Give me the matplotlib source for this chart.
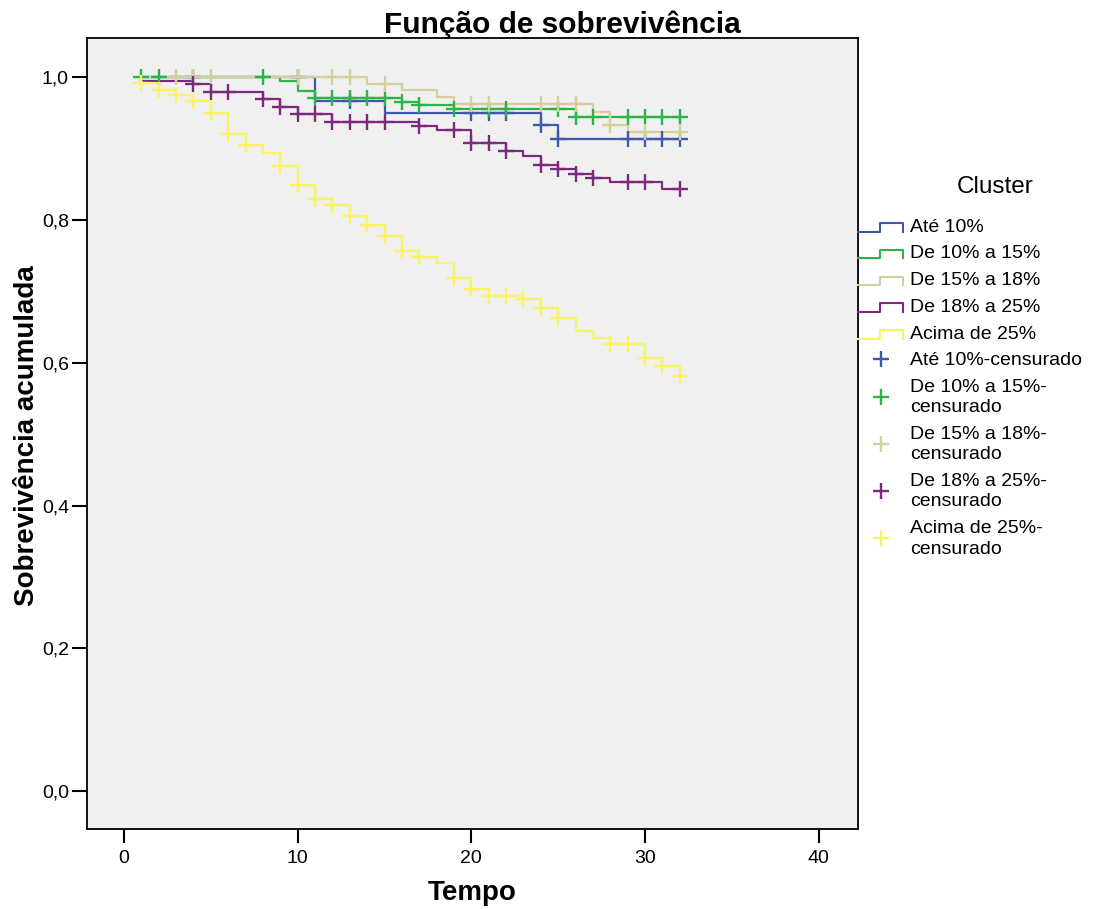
import numpy as np
import matplotlib
matplotlib.use("Agg")
import matplotlib.pyplot as plt
from matplotlib.lines import Line2D
from matplotlib.legend_handler import HandlerBase
from matplotlib.ticker import FuncFormatter

plt.rcParams['font.family'] = ['Liberation Sans', 'DejaVu Sans']

# Kaplan-Meier step curves: event times and survival after each step
labels = ["Até 10%", "De 10% a 15%", "De 15% a 18%", "De 18% a 25%", "Acima de 25%"]
colors = ["#3e58ac", "#2db34a", "#d4cf9c", "#7b2a7e", "#f8f464"]

t_ate10 = [1, 11, 15, 24, 25, 32]
s_ate10 = [1.0, 0.967, 0.950, 0.9335, 0.914, 0.914]
c_ate10 = [4, 10, 13, 20, 21, 22, 24, 25, 29, 30, 31, 32]

t_10a15 = [1, 9, 10, 11, 16, 17, 19, 26, 32]
s_10a15 = [1.0, 0.9946, 0.980, 0.971, 0.9656, 0.9615, 0.955, 0.944, 0.944]
c_10a15 = [1, 2, 8, 11, 12, 13, 14, 15, 16, 17, 19, 21, 22, 25, 26, 27, 29, 30, 31, 32]

t_15a18 = [1, 14, 16, 18, 19, 27, 28, 29, 32]
s_15a18 = [1.0, 0.9906, 0.982, 0.9724, 0.963, 0.951, 0.9335, 0.923, 0.923]
c_15a18 = [3, 4, 5, 10, 12, 13, 15, 20, 21, 24, 25, 26, 28, 30, 32]

t_18a25 = [1, 4, 5, 8, 9, 10, 12, 17, 18, 20, 22, 23, 24, 25, 26, 27, 28, 31, 32]
s_18a25 = [0.9946, 0.990, 0.979, 0.969, 0.9586, 0.948, 0.937, 0.931, 0.926, 0.908,
           0.896, 0.889, 0.8775, 0.871, 0.865, 0.859, 0.8525, 0.844, 0.844]
c_18a25 = [4, 5, 6, 8, 9, 10, 11, 12, 13, 14, 15, 17, 19, 20, 21, 22, 24, 25, 26, 27, 29, 30, 32]

t_acima25 = [1, 2, 3, 4, 5, 6, 7, 8, 9, 10, 11, 12, 13, 14, 15, 16, 17, 18, 19, 20,
             21, 23, 24, 25, 26, 27, 28, 30, 31, 32]
s_acima25 = [0.9925, 0.982, 0.975, 0.967, 0.950, 0.920, 0.905, 0.894, 0.875, 0.849,
             0.829, 0.821, 0.806, 0.793, 0.777, 0.7565, 0.748, 0.740, 0.719, 0.703,
             0.694, 0.690, 0.677, 0.663, 0.644, 0.635, 0.626, 0.606, 0.595, 0.582]
c_acima25 = [1, 2, 3, 4, 5, 6, 7, 9, 10, 11, 12, 13, 14, 15, 16, 17, 19, 20, 21, 22,
             23, 24, 25, 28, 29, 30, 31, 32]

times = [t_ate10, t_10a15, t_15a18, t_18a25, t_acima25]
survs = [s_ate10, s_10a15, s_15a18, s_18a25, s_acima25]
censors = [c_ate10, c_10a15, c_15a18, c_18a25, c_acima25]


class StepHandler(HandlerBase):
    # legend icon shaped like a small step
    def create_artists(self, legend, orig_handle, xdescent, ydescent,
                       width, height, fontsize, trans):
        x0, y0 = -xdescent, -ydescent
        h = height * 0.62
        xs = [x0, x0 + width * 0.49, x0 + width * 0.49, x0 + width, x0 + width]
        ys = [y0, y0, y0 + h, y0 + h, y0]
        line = Line2D(xs, ys, color=orig_handle.get_color(), lw=1.5)
        line.set_transform(trans)
        return [line]


fig = plt.figure(figsize=(10.93, 9.09), dpi=100)
ax = fig.add_axes([0.0796, 0.088, 0.7054, 0.870])
ax.set_facecolor("#f0f0f0")

step_handles = []
for t, s, col, lab in zip(times, survs, colors, labels):
    ln, = ax.step(t, s, where="post", color=col, lw=1.6)
    step_handles.append(ln)

mark_handles = []
for t, s, c, col in zip(times, survs, censors, colors):
    t = np.array(t)
    s = np.array(s)
    idx = np.searchsorted(t, c, side="right") - 1
    mk, = ax.plot(c, s[idx], ls="none", marker="+", ms=12, mew=1.7, color=col)
    mark_handles.append(mk)

ax.set_xlim(-2.13, 42.26)
ax.set_ylim(-0.053, 1.0546)
ax.set_xticks([0, 10, 20, 30, 40])
ax.set_yticks([0.0, 0.2, 0.4, 0.6, 0.8, 1.0])
ax.yaxis.set_major_formatter(FuncFormatter(lambda v, p: f"{v:.1f}".replace(".", ",")))
ax.tick_params(axis="x", length=10, width=1.5, labelsize=14, pad=5)
ax.tick_params(axis="y", length=11, width=1.5, labelsize=14, pad=2)
for sp in ax.spines.values():
    sp.set_linewidth(1.3)

ax.set_xlabel("Tempo", fontsize=20, fontweight="bold", va="center")
ax.set_ylabel("Sobrevivência acumulada", fontsize=20, fontweight="bold", va="center")
ax.xaxis.set_label_coords(0.5, -0.081)
ax.yaxis.set_label_coords(-0.078, 0.498)
fig.text(0.5146, 1 - 33 / 909, "Função de sobrevivência", ha="center", va="baseline",
         fontsize=21.5, fontweight="bold")

fig.text(995 / 1093, 1 - 187 / 909, "Cluster", ha="center", va="center", fontsize=17.5)
leg_labels = labels + [
    "Até 10%-censurado",
    "De 10% a 15%-\ncensurado",
    "De 15% a 18%-\ncensurado",
    "De 18% a 25%-\ncensurado",
    "Acima de 25%-\ncensurado",
]
handler_map = {h: StepHandler() for h in step_handles}
leg = fig.legend(step_handles + mark_handles, leg_labels, handler_map=handler_map,
                 loc="upper left", bbox_to_anchor=(858 / 1093, 1 - 218 / 909),
                 frameon=False, fontsize=14, handlelength=2.32, handletextpad=0.36,
                 labelspacing=0.47, borderpad=0, borderaxespad=0)
for txt in leg.get_texts():
    txt.set_linespacing(1.3)

fig.savefig("out.png", dpi=100)
